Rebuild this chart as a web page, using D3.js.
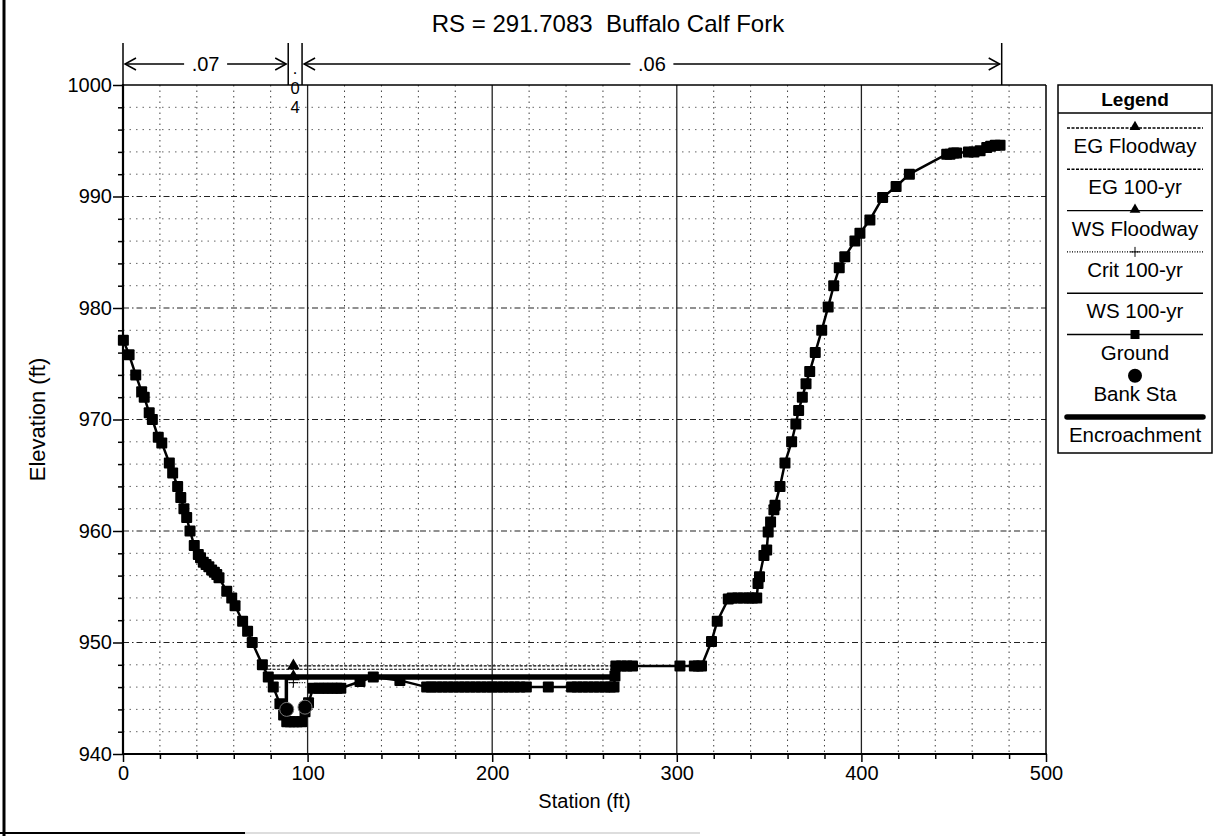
<!DOCTYPE html>
<html><head><meta charset="utf-8">
<script src="https://cdn.jsdelivr.net/npm/d3@7"></script>
<style>body{margin:0;background:#fff} svg{display:block} text{font-family:"Liberation Sans",Arial,sans-serif;fill:#000;white-space:pre}</style>
</head><body><svg id="c" width="1215" height="836"></svg>
<script>
const chartTitle = "RS = 291.7083  Buffalo Calf Fork";
const xLabel = "Station (ft)";
const yLabel = "Elevation (ft)";
const xTicks = [0, 100, 200, 300, 400, 500];
const yTicks = [940, 950, 960, 970, 980, 990, 1000];

const groundSta = [0.2, 3.3, 6.9, 10.1, 11.5, 14.2, 15.9, 19.1, 21, 25.1, 26.9, 29.6, 31.3, 33, 34.5, 36.3, 38.6, 40.8, 42, 43.5, 45, 46.5, 48, 49.5, 50.8, 52, 56.2, 58.9, 60.7, 64.8, 67.5, 70, 75.5, 78.7, 81.4, 85, 87, 88.7, 90.5, 92.5, 94.5, 96.8, 98.6, 100.5, 103, 106, 108.5, 111, 113.5, 116, 118, 128.4, 135.6, 150, 164.5, 167, 170, 173, 176, 179, 182, 185, 188, 191, 194, 197, 200, 203, 206, 209, 212, 215, 218.5, 230.4, 243, 246, 249, 252, 255, 258, 261, 264, 266, 266.5, 267, 270, 273, 276, 301.7, 309.5, 311.6, 313.4, 318.8, 321.9, 327.9, 330, 333, 336, 339, 341, 343.3, 344, 344.8, 347.2, 348.7, 349.5, 350.8, 352.6, 353.2, 355.9, 358.6, 362.2, 364.5, 366, 368, 370, 372, 375, 378.5, 382, 385, 388, 391, 396.5, 399.2, 404.6, 411.5, 418.8, 426, 446.2, 448, 450, 451.6, 458, 461, 464.3, 467.9, 470, 472.5, 475.1];
const groundElev = [977.1, 975.8, 974.0, 972.5, 972.0, 970.6, 970.0, 968.4, 967.9, 966.1, 965.2, 964.0, 963.0, 962.0, 961.2, 960.0, 958.7, 957.9, 957.6, 957.2, 957.0, 956.8, 956.5, 956.3, 956.1, 955.8, 954.6, 954.0, 953.3, 951.9, 951.0, 950.0, 948.0, 946.9, 946.0, 944.5, 943.5, 942.9, 942.9, 942.9, 942.9, 942.9, 943.8, 944.6, 945.9, 945.9, 945.9, 945.9, 945.9, 945.9, 945.9, 946.5, 946.9, 946.6, 946.0, 946.0, 946.0, 946.0, 946.0, 946.0, 946.0, 946.0, 946.0, 946.0, 946.0, 946.0, 946.0, 946.0, 946.0, 946.0, 946.0, 946.0, 946.0, 946.0, 946.0, 946.0, 946.0, 946.0, 946.0, 946.0, 946.0, 946.0, 946.0, 947.0, 947.9, 947.9, 947.9, 947.9, 947.9, 947.9, 947.9, 947.9, 950.1, 951.9, 953.9, 954.0, 954.0, 954.0, 954.0, 954.0, 954.0, 955.3, 955.9, 957.8, 958.3, 959.9, 960.8, 961.9, 962.3, 964.0, 966.1, 968.0, 969.6, 970.8, 972.0, 973.2, 974.3, 976.0, 978.0, 980.1, 982.0, 983.6, 984.6, 986.0, 986.7, 987.9, 989.9, 990.9, 992.0, 993.8, 993.8, 993.9, 993.9, 994.0, 994.0, 994.1, 994.4, 994.5, 994.6, 994.6];

const bankSta = [88.7, 98.6];
const bankElev = [944.0, 944.2];

const profileNames = ["EG Floodway", "EG 100-yr", "WS Floodway", "Crit 100-yr", "WS 100-yr"];
const profileElev = [947.9, 947.6, 946.95, 946.4, 946.85];
const profileStart = [78.4, 78.6, 78.7, 88.7, 78.7];
const profileEnd = [266.5, 266.5, 266.5, 99.5, 266.5];
const profileMarkSta = [92.3, null, 92.3, 92.3, null];

const encSta = [78.7, 266.5];
const encElev = [946.9, 946.9];
const encWallSta = [88.5, 88.5];
const encWallElev = [944.0, 946.9];

const nStart = [0, 89.5, 97];
const nEnd = [89.5, 97, 476];
const nLabels = [".07", ".04", ".06"];

const legendNames = ["EG Floodway", "EG 100-yr", "WS Floodway", "Crit 100-yr", "WS 100-yr", "Ground", "Bank Sta", "Encroachment"];

// ---------- drawing ----------
const svg = d3.select("#c");
const X0 = 123, X1 = 1046, Y0 = 85, Y1 = 754;
const x = d3.scaleLinear().domain([0, 500]).range([X0, X1]);
const y = d3.scaleLinear().domain([940, 1000]).range([Y1, Y0]);

svg.append("rect").attr("width", 1215).attr("height", 836).attr("fill", "#fff");
// page frame remnants
svg.append("line").attr("x1", 4).attr("x2", 4).attr("y1", 0).attr("y2", 836).attr("stroke", "#000").attr("stroke-width", 3);
svg.append("line").attr("x1", 0).attr("x2", 245).attr("y1", 833).attr("y2", 833).attr("stroke", "#000").attr("stroke-width", 2);
svg.append("line").attr("x1", 245).attr("x2", 700).attr("y1", 833).attr("y2", 833).attr("stroke", "#bbb").attr("stroke-width", 1);

// grid
const g = svg.append("g");
const minorX = d3.range(20, 500, 20).filter(v => v % 100 !== 0);
const minorY = d3.range(942, 1000, 2).filter(v => v % 10 !== 0);
g.selectAll(".mx").data(minorX).join("line")
  .attr("x1", d => x(d)).attr("x2", d => x(d)).attr("y1", Y0).attr("y2", Y1)
  .attr("stroke", "#000").attr("stroke-width", 1).attr("stroke-dasharray", "1.5,4").attr("opacity", 0.75);
g.selectAll(".my").data(minorY).join("line")
  .attr("x1", X0).attr("x2", X1).attr("y1", d => y(d)).attr("y2", d => y(d))
  .attr("stroke", "#000").attr("stroke-width", 1).attr("stroke-dasharray", "1.5,5").attr("opacity", 0.6);
g.selectAll(".Mx").data(xTicks.slice(1, -1)).join("line")
  .attr("x1", d => x(d)).attr("x2", d => x(d)).attr("y1", Y0).attr("y2", Y1)
  .attr("stroke", "#222").attr("stroke-width", 1.3);
g.selectAll(".My").data(yTicks.slice(1, -1)).join("line")
  .attr("x1", X0).attr("x2", X1).attr("y1", d => y(d)).attr("y2", d => y(d))
  .attr("stroke", "#222").attr("stroke-width", 1.2).attr("stroke-dasharray", "6,3,1.5,3");

// axes
const xAxis = d3.axisBottom(x).tickValues(xTicks).tickSize(8).tickPadding(4).tickFormat(d3.format("d"));
const xMinor = d3.axisBottom(x).tickValues(minorX).tickSize(5).tickFormat("");
const yAxis = d3.axisLeft(y).tickValues(yTicks).tickSize(10).tickPadding(1).tickFormat(d3.format("d"));
const yMinor = d3.axisLeft(y).tickValues(minorY).tickSize(5).tickFormat("");
function styleAxis(sel, fs) {
  sel.select(".domain").remove();
  sel.selectAll("line").attr("stroke", "#000").attr("stroke-width", 1.5);
  sel.selectAll("text").style("font-size", fs + "px").attr("fill", "#000");
}
svg.append("g").attr("transform", `translate(0,${Y1})`).call(xAxis).call(s => styleAxis(s, 20));
svg.append("g").attr("transform", `translate(0,${Y1})`).call(xMinor).call(s => styleAxis(s, 20));
svg.append("g").attr("transform", `translate(${X0},0)`).call(yAxis).call(s => styleAxis(s, 20));
svg.append("g").attr("transform", `translate(${X0},0)`).call(yMinor).call(s => styleAxis(s, 20));

// plot frame
svg.append("line").attr("x1", X0).attr("x2", X1).attr("y1", Y0).attr("y2", Y0).attr("stroke", "#000").attr("stroke-width", 1.5);
svg.append("line").attr("x1", X1).attr("x2", X1).attr("y1", Y0).attr("y2", Y1).attr("stroke", "#000").attr("stroke-width", 1.5);
svg.append("line").attr("x1", X0).attr("x2", X0).attr("y1", Y0 - 1).attr("y2", Y1 + 1).attr("stroke", "#000").attr("stroke-width", 2.2);
svg.append("line").attr("x1", X0 - 1).attr("x2", X1 + 1).attr("y1", Y1).attr("y2", Y1).attr("stroke", "#000").attr("stroke-width", 2.2);

// profiles
const profDash = ["3,1.5", "3,1.5", null, "1,1.5", null];
const profMark = ["tri", null, "tri", "plus", null];
function drawMarker(sel, type, cx, cy, size) {
  if (type === "tri") sel.append("path").attr("d", d3.symbol().type(d3.symbolTriangle).size(size || 55)()).attr("transform", `translate(${cx},${cy})`).attr("fill", "#000");
  if (type === "plus") sel.append("path").attr("d", `M${cx - 5},${cy}H${cx + 5}M${cx},${cy - 5}V${cy + 5}`).attr("stroke", "#000").attr("stroke-width", 1);
  if (type === "sq") sel.append("rect").attr("x", cx - 4.5).attr("y", cy - 4.5).attr("width", 9).attr("height", 9).attr("fill", "#000");
  if (type === "dot") sel.append("circle").attr("cx", cx).attr("cy", cy).attr("r", 7).attr("fill", "#000");
}
const pg = svg.append("g");
profileNames.forEach((n, i) => {
  pg.append("line").attr("x1", x(profileStart[i])).attr("x2", x(profileEnd[i]))
    .attr("y1", y(profileElev[i])).attr("y2", y(profileElev[i]))
    .attr("stroke", "#000").attr("stroke-width", 1.2).attr("stroke-dasharray", profDash[i]);
});

// encroachment
const line = d3.line().x(d => x(d[0])).y(d => y(d[1]));
svg.append("path").attr("d", line(encSta.map((s, i) => [s, encElev[i]])))
  .attr("stroke", "#000").attr("stroke-width", 5.5).attr("fill", "none");
svg.append("path").attr("d", line(encWallSta.map((s, i) => [s, encWallElev[i]])))
  .attr("stroke", "#000").attr("stroke-width", 3.5).attr("fill", "none");

// ground
const ground = groundSta.map((s, i) => [s, groundElev[i]]);
svg.append("path").attr("d", line(ground)).attr("stroke", "#000").attr("stroke-width", 2.5).attr("fill", "none").attr("stroke-linejoin", "round");
svg.append("g").selectAll("rect").data(ground).join("rect")
  .attr("x", d => x(d[0]) - 5.5).attr("y", d => y(d[1]) - 5.5).attr("width", 11).attr("height", 11).attr("rx", 1).attr("fill", "#000");

// profile markers on top
profileNames.forEach((n, i) => {
  if (profileMarkSta[i] != null) drawMarker(pg.raise(), profMark[i], x(profileMarkSta[i]), y(profileElev[i]), 70);
});

// bank stations
svg.append("g").selectAll("circle").data(bankSta.map((s, i) => [s, bankElev[i]])).join("circle")
  .attr("cx", d => x(d[0])).attr("cy", d => y(d[1])).attr("r", 7).attr("fill", "#000").attr("stroke", "#777").attr("stroke-width", 1);

// Manning's n bracket
const nTop = 43, nY = 64;
const nb = svg.append("g");
[...new Set([...nStart, ...nEnd])].forEach(s => {
  nb.append("line").attr("x1", x(s)).attr("x2", x(s)).attr("y1", nTop).attr("y2", Y0).attr("stroke", "#000").attr("stroke-width", 1.5);
});
nLabels.forEach((lab, i) => {
  const a = x(nStart[i]), b = x(nEnd[i]), m = (a + b) / 2;
  if (b - a > 40) {
    const tw = lab.length * 11 + 10;
    nb.append("line").attr("x1", a + 2).attr("x2", m - tw / 2).attr("y1", nY).attr("y2", nY).attr("stroke", "#000").attr("stroke-width", 1.5);
    nb.append("line").attr("x1", m + tw / 2).attr("x2", b - 2).attr("y1", nY).attr("y2", nY).attr("stroke", "#000").attr("stroke-width", 1.5);
    nb.append("path").attr("d", `M${a + 13},${nY - 6}L${a + 2},${nY}L${a + 13},${nY + 6}`).attr("stroke", "#000").attr("fill", "none").attr("stroke-width", 1.5);
    nb.append("path").attr("d", `M${b - 13},${nY - 6}L${b - 2},${nY}L${b - 13},${nY + 6}`).attr("stroke", "#000").attr("fill", "none").attr("stroke-width", 1.5);
    nb.append("text").attr("x", m).attr("y", nY + 7).attr("text-anchor", "middle").style("font-size", "20px").text(lab);
  } else {
    // narrow zone: stack characters vertically, one per line
    lab.split("").forEach((ch, k) => {
      nb.append("text").attr("x", m).attr("y", 74 + k * 19.5).attr("text-anchor", "middle").style("font-size", "16.5px").text(ch);
    });
  }
});

// titles
svg.append("text").attr("x", 608).attr("y", 32).attr("text-anchor", "middle").style("font-size", "24px").text(chartTitle);
svg.append("text").attr("x", (X0 + X1) / 2).attr("y", 808).attr("text-anchor", "middle").style("font-size", "20px").text(xLabel);
svg.append("text").attr("transform", `translate(45,${(Y0 + Y1) / 2}) rotate(-90)`).attr("text-anchor", "middle").style("font-size", "22px").text(yLabel);

// legend
const LX0 = 1058, LX1 = 1212, LY0 = 85, LY1 = 453;
const lg = svg.append("g");
lg.append("rect").attr("x", LX0).attr("y", LY0).attr("width", LX1 - LX0).attr("height", LY1 - LY0).attr("fill", "#fff").attr("stroke", "#000").attr("stroke-width", 1.5);
lg.append("line").attr("x1", LX0).attr("x2", LX1).attr("y1", 113).attr("y2", 113).attr("stroke", "#000").attr("stroke-width", 1.3);
lg.append("text").attr("x", (LX0 + LX1) / 2).attr("y", 106).attr("text-anchor", "middle").style("font-size", "19px").style("font-weight", "bold").text("Legend");
const lDash = ["3,1.5", "3,1.5", null, "1,1.5", null, null, null, null];
const lMark = ["tri", null, "tri", "plus", null, "sq", "dot", null];
const lx1 = 1067, lx2 = 1203, lcx = (lx1 + lx2) / 2;
legendNames.forEach((n, i) => {
  const ly = 128 + i * 41.3;
  if (n !== "Bank Sta") {
    lg.append("line").attr("x1", lx1).attr("x2", lx2).attr("y1", ly).attr("y2", ly).attr("stroke", "#000")
      .attr("stroke-width", n === "Encroachment" ? 5.5 : 1.4).attr("stroke-dasharray", lDash[i]).attr("stroke-linecap", n === "Encroachment" ? "round" : "butt");
  }
  if (lMark[i]) drawMarker(lg, lMark[i], lcx, lMark[i] === "tri" ? ly - 1 : ly, 50);
  lg.append("text").attr("x", lcx).attr("y", ly + 25).attr("text-anchor", "middle").style("font-size", "20.5px").text(n);
});
</script>
</body></html>
